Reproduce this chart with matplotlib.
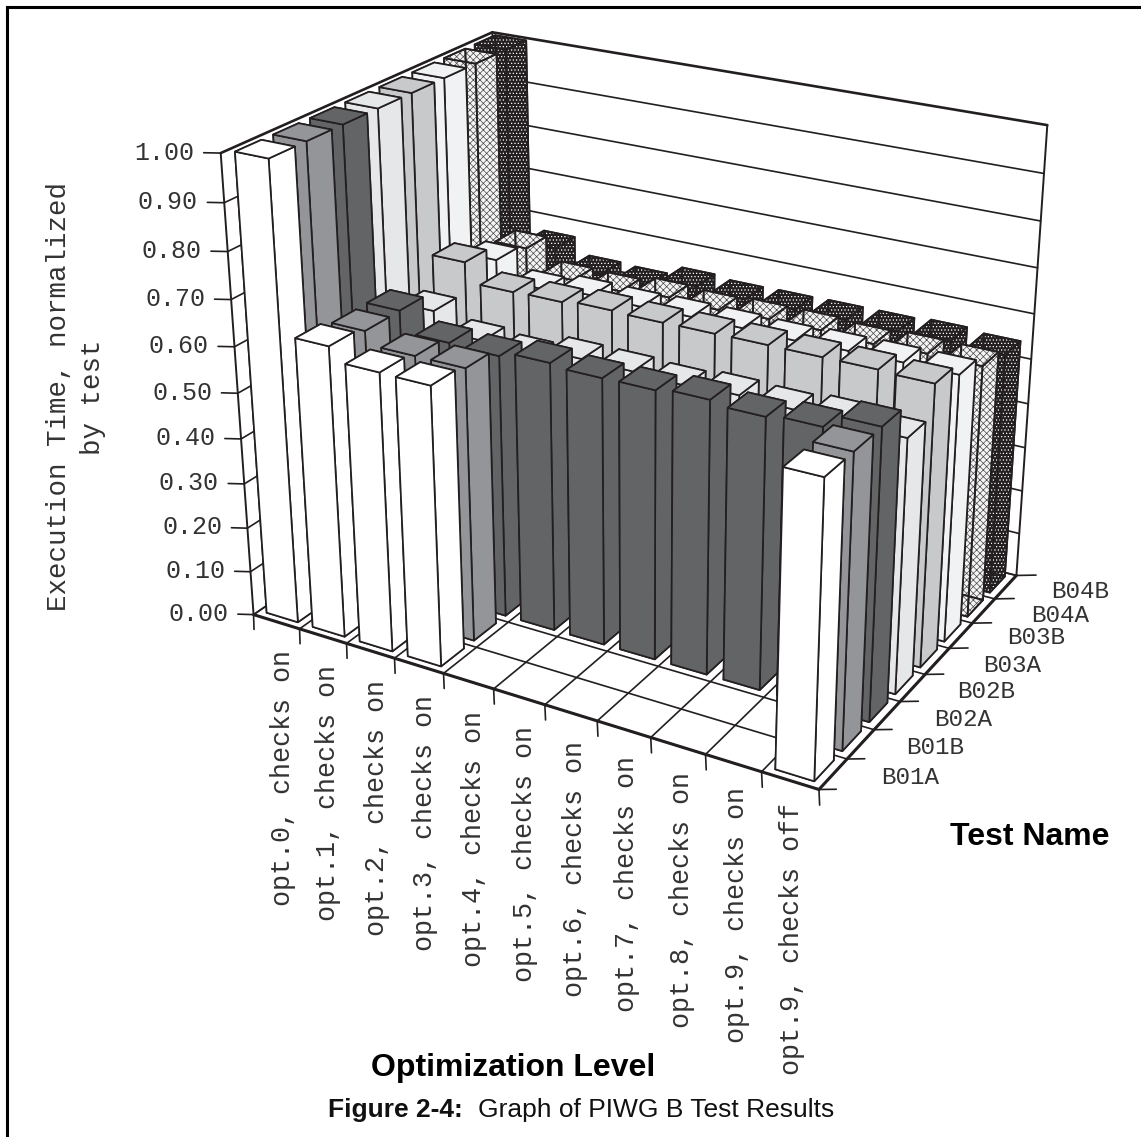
import matplotlib
matplotlib.use("Agg")
import matplotlib.pyplot as plt
from matplotlib.lines import Line2D

opt_levels = ["opt.0, checks on", "opt.1, checks on", "opt.2, checks on", "opt.3, checks on",
              "opt.4, checks on", "opt.5, checks on", "opt.6, checks on", "opt.7, checks on",
              "opt.8, checks on", "opt.9, checks on", "opt.9, checks off"]
tests = ["B01A", "B01B", "B02A", "B02B", "B03A", "B03B", "B04A", "B04B"]
z_ticks = ["0.00", "0.10", "0.20", "0.30", "0.40", "0.50", "0.60", "0.70", "0.80", "0.90", "1.00"]

b01a = [1.00, 0.640, 0.611, 0.610, 0, 0, 0, 0, 0, 0, 0.621]
b01b = [1.00, 0.629, 0.601, 0.601, 0, 0, 0, 0, 0, 0, 0.621]
b02a = [1.00, 0.630, 0.585, 0.582, 0.593, 0.587, 0.588, 0.595, 0.587, 0.594, 0.622]
b02b = [1.00, 0.587, 0.546, 0.538, 0.557, 0.556, 0.552, 0.558, 0.555, 0.561, 0.551]
b03a = [1.00, 0.654, 0.611, 0.613, 0.619, 0.617, 0.618, 0.619, 0.619, 0.619, 0.616]
b03b = [1.00, 0.619, 0.576, 0.586, 0.585, 0.587, 0.587, 0.585, 0.588, 0.589, 0.589]
b04a = [1.00, 0.606, 0.556, 0.554, 0.564, 0.560, 0.564, 0.564, 0.559, 0.563, 0.562]
b04b = [1.00, 0.567, 0.530, 0.527, 0.548, 0.542, 0.543, 0.544, 0.544, 0.548, 0.542]
series = [b01a, b01b, b02a, b02b, b03a, b03b, b04a, b04b]

colors = ["#ffffff", "#939598", "#636466", "#e6e7e8", "#c7c9cb", "#f1f2f3", "#f4f4f4", "#231f20"]
hatches = [None, None, None, None, None, None, "xxxxx", "....."]
hatch_colors = [None, None, None, None, None, None, "#4a4a4a", "#ffffff"]
INK = "#231f20"
GREY_TEXT = "#333333"
MONO = "Liberation Mono"
SANS = "Liberation Sans"

plt.rcParams["hatch.linewidth"] = 0.5

W, H = 1141, 1137
fig = plt.figure(figsize=(W / 100, H / 100), dpi=100)
ax = fig.add_axes([171.81 / W, (H - 844.72) / H, 912.85 / W, 912.85 / H], projection="3d")
ax.computed_zorder = False
ax.set_proj_type("persp", focal_length=0.5101)
ax.view_init(elev=23.922, azim=-59.995)
ax.set_box_aspect((634.7, 461.9, 490))
ax.set_xlim(0, 11, view_margin=0)
ax.set_ylim(0, 8, view_margin=0)
ax.set_zlim(0, 1, view_margin=0)
ax.set_axis_off()
ax.patch.set_alpha(0)

nx, ny = len(opt_levels), len(tests)


def line(xs, ys, zs, lw=1.2, z=1):
    ax.plot(xs, ys, zs, color=INK, lw=lw, zorder=z, solid_capstyle="round")


# walls and floor grid
for i in range(11):
    zv = i / 10
    lw = 1.9 if i == 10 else 1.2
    line([0, 0], [0, ny], [zv, zv], lw=lw)
    line([0, nx], [ny, ny], [zv, zv], lw=lw)
    line([0, -0.248], [0, -0.124], [zv, zv])
    ax.text(-0.39, -0.195, zv, z_ticks[i], family=MONO, fontsize=18, color=GREY_TEXT,
            ha="right", va="center", zorder=5)
for i in range(nx + 1):
    line([i, i], [0, ny], [0, 0])
    line([i, i + 0.33 - 0.13 * i / nx], [0, -0.41 + 0.03 * i / nx], [0, 0])
for j in range(ny + 1):
    line([0, nx], [j, j], [0, 0])
    line([nx, nx + 0.23 + 0.07 * j / ny], [j, j + 0.14 + 0.05 * j / ny], [0, 0])
line([0, 0], [0, 0], [0, 1], lw=1.4)
line([0, 0], [ny, ny], [0, 1], lw=1.4)
line([nx, nx], [ny, ny], [0, 1], lw=1.4)
line([0, nx], [0, 0], [0, 0], lw=2.2)
line([nx, nx], [0, ny], [0, 0], lw=2.2)

# bars, back to front
order = 10
for j in range(ny - 1, -1, -1):
    for i in range(nx):
        v = series[j][i]
        if v <= 0:
            continue
        x0, y0, dx, dy = i + 0.155, j + 0.17, 0.68, 0.69
        if hatches[j]:
            ax.bar3d(x0, y0, 0, dx, dy, v, color=colors[j], shade=False, zorder=order,
                     hatch=hatches[j], edgecolor=hatch_colors[j], linewidth=0)
            order += 1
            ax.bar3d(x0, y0, 0, dx, dy, v, color=(0, 0, 0, 0), shade=False, zorder=order,
                     edgecolor=INK, linewidth=1.25)
        else:
            ax.bar3d(x0, y0, 0, dx, dy, v, color=colors[j], shade=False, zorder=order,
                     edgecolor=INK, linewidth=1.25)
        order += 1

# category labels
label_x = [283, 328, 377, 425, 474, 525, 575, 627, 682, 737, 792]
label_top = [650, 665, 680, 695, 711, 726, 741, 756, 772, 787, 803]
for i, lab in enumerate(opt_levels):
    fig.text(label_x[i] / W, 1 - label_top[i] / H, lab, rotation=90, family=MONO, fontsize=19.3,
             color=GREY_TEXT, ha="center", va="top")
test_x = [910, 935, 963, 986, 1012, 1036, 1060, 1080]
test_y = [778, 748, 719, 692, 666, 638, 616, 592]
for j, lab in enumerate(tests):
    fig.text(test_x[j] / W, 1 - test_y[j] / H, lab, family=MONO, fontsize=17.5, color=GREY_TEXT,
             ha="center", va="center")

fig.text(76 / W, 1 - 397 / H, "Execution Time, normalized\nby test", rotation=90, family=MONO, fontsize=19.8,
         color=GREY_TEXT, ha="center", va="center", ma="center", linespacing=1.35)
fig.text(1030 / W, 1 - 837 / H, "Test Name", family=SANS, weight="bold", fontsize=23, color="black",
         ha="center", va="center")
fig.text(513 / W, 1 - 1068 / H, "Optimization Level", family=SANS, weight="bold", fontsize=23, color="black",
         ha="center", va="center")
fig.text(328 / W, 1 - 1110 / H, "Figure 2-4:", family=SANS, weight="bold", fontsize=19, color="#111111",
         ha="left", va="center")
fig.text(478 / W, 1 - 1110 / H, "Graph of PIWG B Test Results", family=SANS, fontsize=19, color="#111111",
         ha="left", va="center")

# frame: top and left only
for xs, ys in [([7, 7], [H, 6.5]), ([7, W], [6.5, 6.5])]:
    fig.add_artist(Line2D([x / W for x in xs], [1 - y / H for y in ys], color="black", lw=2.2))

fig.savefig("out.png", dpi=100)
